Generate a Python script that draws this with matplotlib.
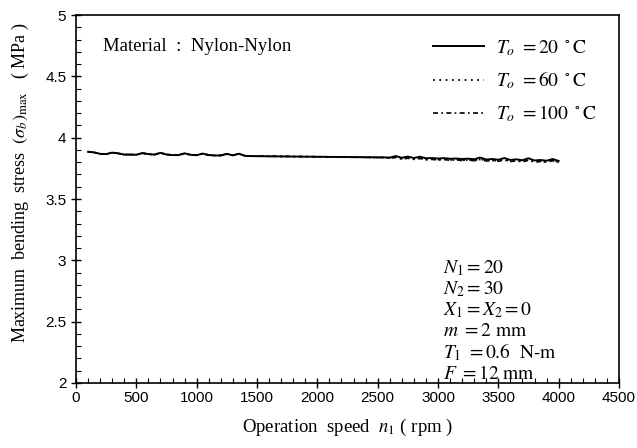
import numpy as np
import matplotlib
matplotlib.use("Agg")
import matplotlib.pyplot as plt
from matplotlib.ticker import MultipleLocator

# operation speed n1 (rpm), 50 rpm steps from 100 to 4000
rpm = list(range(100, 4001, 50))

# max bending stress (MPa), To = 20 C
stress_20 = [3.885, 3.880, 3.868, 3.866, 3.878, 3.872, 3.862, 3.862, 3.861, 3.874,
             3.866, 3.862, 3.876, 3.863, 3.858, 3.858, 3.872, 3.860, 3.857, 3.870,
             3.858, 3.855, 3.855, 3.868, 3.856, 3.869, 3.852, 3.850, 3.849, 3.849,
             3.848, 3.848, 3.847, 3.847, 3.846, 3.846, 3.845, 3.845, 3.844, 3.844,
             3.843, 3.843, 3.842, 3.842, 3.841, 3.841, 3.840, 3.840, 3.839, 3.839,
             3.838, 3.850, 3.836, 3.846, 3.834, 3.845, 3.832, 3.834, 3.830, 3.833,
             3.828, 3.830, 3.826, 3.829, 3.824, 3.838, 3.822, 3.826, 3.820, 3.834,
             3.818, 3.823, 3.816, 3.832, 3.814, 3.818, 3.812, 3.826, 3.810]

# To = 60 C : same as 20 C up to 2550 rpm, then a little lower
tail_60 = [3.834, 3.842, 3.828, 3.836, 3.825, 3.834, 3.822, 3.826, 3.820, 3.825,
           3.818, 3.822, 3.816, 3.820, 3.814, 3.826, 3.812, 3.816, 3.810, 3.822,
           3.808, 3.812, 3.806, 3.820, 3.804, 3.808, 3.802, 3.816, 3.800]
stress_60 = stress_20[:50] + tail_60

# To = 100 C
tail_100 = [3.832, 3.838, 3.826, 3.832, 3.823, 3.830, 3.820, 3.823, 3.818, 3.822,
            3.816, 3.819, 3.814, 3.818, 3.812, 3.822, 3.810, 3.813, 3.808, 3.818,
            3.806, 3.810, 3.804, 3.816, 3.802, 3.806, 3.800, 3.812, 3.798]
stress_100 = stress_20[:50] + tail_100

params = [r"$N_1 = 20$", r"$N_2 = 30$", r"$X_1 = X_2 = 0$",
          r"$m\ = 2\ \mathrm{mm}$", r"$T_1\ = 0.6\ \ \mathrm{N\text{-}m}$",
          r"$F\ = 12\ \mathrm{mm}$"]

plt.rcParams['mathtext.fontset'] = 'stix'
serif = 'Liberation Serif'
sans = 'Liberation Sans'

fig = plt.figure(figsize=(6.37, 4.48), dpi=100)
ax = fig.add_axes([0.1193, 0.1451, 0.8524, 0.8214])

ax.plot(rpm, stress_20, '-', color='black', lw=1.4, label=r"$T_o\ = 20\ ^\circ\mathrm{C}$")
ax.plot(rpm, stress_60, color='black', lw=1.3, ls=(0, (1, 2.5)),
        label=r"$T_o\ = 60\ ^\circ\mathrm{C}$")
ax.plot(rpm, stress_100, color='black', lw=1.2, ls=(0, (3, 2, 1, 2)),
        label=r"$T_o\ = 100\ ^\circ\mathrm{C}$")

ax.set_xlim(0, 4500)
ax.set_ylim(2, 5)
ax.xaxis.set_major_locator(MultipleLocator(500))
ax.xaxis.set_minor_locator(MultipleLocator(100))
ax.yaxis.set_major_locator(MultipleLocator(0.5))
ax.yaxis.set_minor_locator(MultipleLocator(0.1))
ax.set_yticks([2, 2.5, 3, 3.5, 4, 4.5, 5])
ax.set_yticklabels(['2', '2.5', '3', '3.5', '4', '4.5', '5'])
ax.tick_params(which='major', direction='inout', length=7, width=1, labelsize=11)
ax.tick_params(which='minor', direction='in', length=3.5, width=0.8)
ax.tick_params(axis='x', which='major', length=7, pad=2)
for lab in ax.get_xticklabels() + ax.get_yticklabels():
    lab.set_family(sans)
for s in ax.spines.values():
    s.set_linewidth(1.2)

ax.text(223, 4.74, "Material  :  Nylon-Nylon", family=serif, fontsize=13.5, va='center')

leg = ax.legend(loc='upper right', bbox_to_anchor=(0.99, 0.985), frameon=False,
                fontsize=14, handlelength=2.6, handletextpad=0.6, labelspacing=0.62)

y0 = 268
for i, p in enumerate(params):
    fig.text(443 / 637, 1 - (y0 + 21.0 * i) / 448, p, fontsize=14, va='center')

ax.set_xlabel(r"Operation  speed  $n_1$ ( rpm )", family=serif, fontsize=13.5, labelpad=9)
fig.text(20 / 637, 1 - 183 / 448,
         r"Maximum  bending  stress  $(\sigma_b)_{\max}$   ( MPa )",
         family=serif, fontsize=13, rotation=90, ha='center', va='center')

fig.savefig("out.png", dpi=100)
